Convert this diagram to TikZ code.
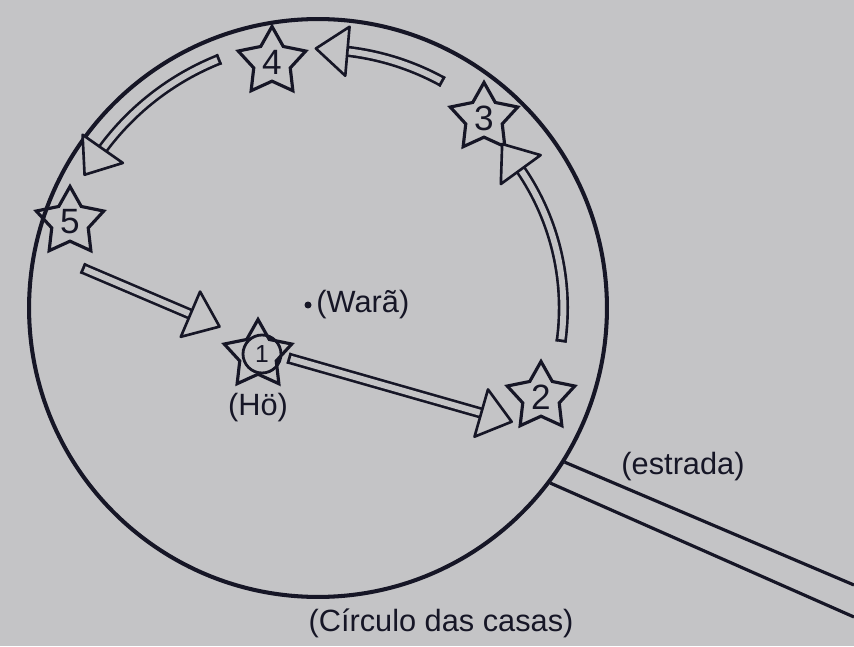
\documentclass[tikz,border=0pt]{standalone}
\usepackage{fontspec}
\setmainfont{Liberation Sans}
\usetikzlibrary{shapes.geometric, positioning, decorations.markings, calc}

\definecolor{paper}{RGB}{196,196,198}
\definecolor{ink}{RGB}{22,22,38}

\begin{document}
\begin{tikzpicture}[
  x=0.02cm, y=0.02cm,
  starbox/.style={star, star points=5, star point ratio=1.85, draw=ink, line width=1.8pt,
              minimum size=1.42cm, inner sep=0pt, text=ink, font=\fontsize{20}{20}\selectfont},
  flow/.style={draw=ink, line width=1.5pt, double=paper, double distance=3.4pt, line cap=butt,
              postaction={decorate}, decoration={markings,
                mark=at position 0 with {\draw[ink, line width=1.5pt] (0.75pt,-3.2pt) -- (0.75pt,3.2pt);},
                mark=at position 1 with {\draw[ink, line width=1.5pt, fill=paper, line join=round]
                  (14pt,0) -- (-4pt,14pt) -- (-4pt,-14pt) -- cycle;}}},
  road/.style={draw=ink, line width=1.8pt},
  inklabel/.style={text=ink, inner sep=1pt, font=\fontsize{17.5}{20}\selectfont}
]
\path[use as bounding box, fill=paper] (0,0) rectangle (854,646);

% circle of houses and the road
\node[draw=ink, circle, line width=2.3pt, minimum size=11.56cm, inner sep=0pt] (houses) at (318,338) {};
\coordinate (roadA) at (854,61);
\coordinate (roadB) at (854,29);
\draw[road] (houses.-32)   -- (roadA);
\draw[road] (houses.-37.5) -- (roadB);

% stops
\node[starbox] (s1) at (258,291) {};
\node[draw=ink, circle, line width=1.6pt, minimum size=0.76cm, inner sep=0pt, text=ink,
      font=\fontsize{14}{14}\selectfont] (c1) at (262,292) {1};
\node[starbox] (s2) at (541,249) {2};
\node[starbox] (s3) at (484,528) {3};
\node[starbox] (s4) at (272,584) {4};
\node[starbox] (s5) at (70,424)  {5};

% path of the walk
\coordinate (t12) at ($(s1)+(30,-3)$);
\coordinate (h12) at ($(s2)+(-53,-18)$);
\coordinate (t23) at ($(s2)+(20,55)$);
\coordinate (t34) at ($(s3)+(-41,36)$);
\coordinate (t45) at ($(s4)+(-52,3)$);
\coordinate (t51) at ($(s5)+(12,-46)$);
\coordinate (h51) at ($(s1)+(-61,38)$);

\draw[flow] (t12) -- (h12);
\draw[flow] (t23) arc[start angle=-8, end angle=36, radius=245];
\draw[flow] (t34) arc[start angle=61, end angle=85, radius=258];
\draw[flow] (t45) arc[start angle=111.5, end angle=145, radius=268];
\draw[flow] (t51) -- (h51);

% labels
\node[circle, fill=ink, inner sep=0pt, minimum size=0.14cm] (wara) at (308,341) {};
\node[inklabel, right=0.05cm of wara] (waralbl) {(Warã)};
\node[inklabel, below=0.3cm of s1] (holbl) {(Hö)};
\node[inklabel] (roadlbl) at (683,179) {(estrada)};
\node[inklabel] (houseslbl) at (441,23) {(Círculo das casas)};
\end{tikzpicture}
\end{document}
